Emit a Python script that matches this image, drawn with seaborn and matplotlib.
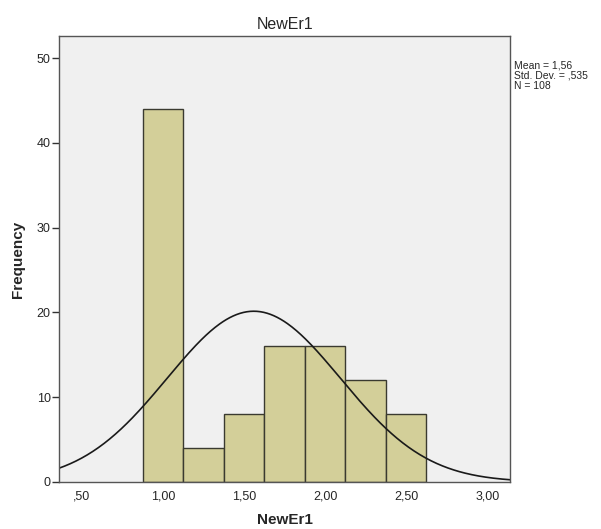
import numpy as np
import pandas as pd
import matplotlib
matplotlib.use("Agg")
import matplotlib.pyplot as plt
import seaborn as sns

# histogram of NewEr1 (SPSS output)
bin_centers = [1.00, 1.25, 1.50, 1.75, 2.00, 2.25, 2.50]
counts = [44, 4, 8, 16, 16, 12, 8]
bin_width = 0.25
mean_val = 1.56
std_val = 0.535
n_total = 108

x_ticks = [0.5, 1.0, 1.5, 2.0, 2.5, 3.0]
x_tick_labels = [",50", "1,00", "1,50", "2,00", "2,50", "3,00"]
y_ticks = [0, 10, 20, 30, 40, 50]

df = pd.DataFrame({"NewEr1": bin_centers, "count": counts})
lo = bin_centers[0] - bin_width / 2
hi = bin_centers[-1] + bin_width / 2

sns.set_style("white")
plt.rcParams["font.family"] = ["Liberation Sans", "DejaVu Sans"]

fig = plt.figure(figsize=(6.01, 5.29), dpi=100)
ax = fig.add_axes([0.098, 0.089, 0.751, 0.843])
ax.set_facecolor("#f0f0f0")

sns.histplot(data=df, x="NewEr1", weights="count", binwidth=bin_width,
             binrange=(lo, hi), ax=ax,
             color="#d3cf99", edgecolor="#3a3a30", linewidth=1.0, alpha=1.0)

# fitted normal curve from the reported mean / sd
xs = np.linspace(0.358, 3.142, 400)
ys = n_total * bin_width * np.exp(-0.5 * ((xs - mean_val) / std_val) ** 2) / (std_val * np.sqrt(2 * np.pi))
ax.plot(xs, ys, color="#1a1a1a", linewidth=1.2)

ax.set_xlim(0.358, 3.142)
ax.set_ylim(0, 52.6)
ax.set_xticks(x_ticks)
ax.set_xticklabels(x_tick_labels, fontsize=9)
ax.set_yticks(y_ticks)
ax.set_yticklabels([str(t) for t in y_ticks], fontsize=9)
ax.tick_params(axis="y", left=True, direction="out", length=5, width=1, color="#333333", pad=1)
ax.tick_params(axis="x", bottom=False, length=0, pad=6)

for sp in ax.spines.values():
    sp.set_color("#555555")
    sp.set_linewidth(1.0)

ax.set_title("NewEr1", fontsize=11.5, pad=5)
ax.set_xlabel("NewEr1", fontsize=11, fontweight="bold", labelpad=8)
ax.set_ylabel("Frequency", fontsize=11, fontweight="bold", labelpad=8)

fig.text(0.856, 0.885, "Mean = 1,56\nStd. Dev. = ,535\nN = 108",
         fontsize=7.5, va="top", ha="left", linespacing=1.0)

fig.savefig("out.png", dpi=100)
